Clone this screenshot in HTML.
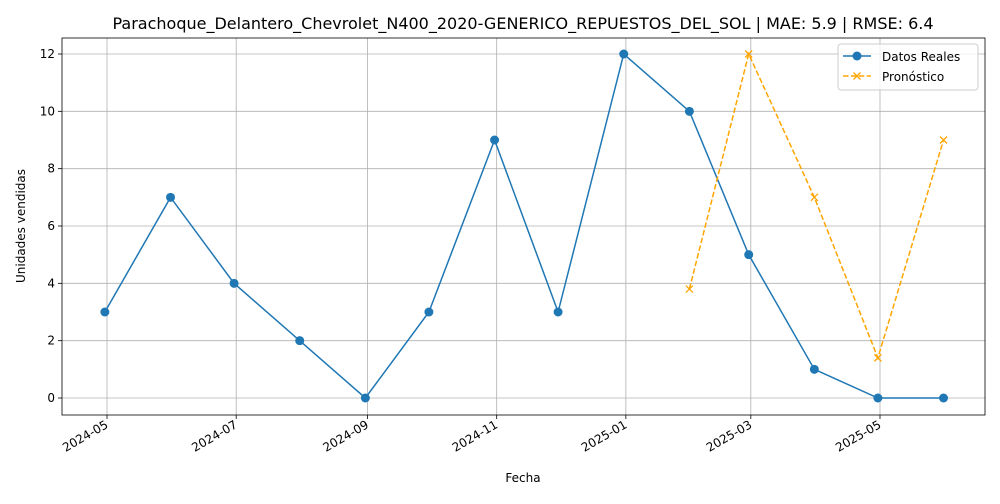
<!DOCTYPE html>
<html><head><meta charset="utf-8"><style>
body{margin:0;background:#fff;font-family:"DejaVu Sans","Liberation Sans",sans-serif;}
svg text{font-family:"DejaVu Sans","Liberation Sans",sans-serif;}
</style></head><body>
<svg id="c" width="1000" height="500" viewBox="0 0 1000 500" xmlns="http://www.w3.org/2000/svg"></svg>
<script>
const realDates=["2024-04-30","2024-05-31","2024-06-30","2024-07-31","2024-08-31","2024-09-30","2024-10-31","2024-11-30","2024-12-31","2025-01-31","2025-02-28","2025-03-31","2025-04-30","2025-05-31"];
const realValues=[3,7,4,2,0,3,9,3,12,10,5,1,0,0];
const fcDates=["2025-01-31","2025-02-28","2025-03-31","2025-04-30","2025-05-31"];
const fcValues=[3.8,12,7,1.4,9];
const xTicks=["2024-05-01","2024-07-01","2024-09-01","2024-11-01","2025-01-01","2025-03-01","2025-05-01"];
const xTickLabels=["2024-05","2024-07","2024-09","2024-11","2025-01","2025-03","2025-05"];
const yTicks=[0,2,4,6,8,10,12];

const svg=document.getElementById('c');const NS="http://www.w3.org/2000/svg";
const L=62,R=985,T=38,B=415;
const d0=Date.parse("2024-05-01"),d1=Date.parse("2025-05-01");
const x=d=>107+(Date.parse(d)-d0)/(d1-d0)*(880-107);
const y=v=>398-v*(344/12);
function el(t,a,p){const e=document.createElementNS(NS,t);for(const k in a)e.setAttribute(k,a[k]);(p||svg).appendChild(e);return e;}
function txt(s,a,name){const e=el('text',a);e.textContent=s;

return e;}
xTicks.forEach((t,i)=>{const g=el('line',{x1:x(t),x2:x(t),y1:T,y2:B,stroke:'#b0b0b0','stroke-width':0.8});


const tk=el('line',{x1:x(t),x2:x(t),y1:B,y2:B+4,stroke:'#000','stroke-width':0.8});


txt(xTickLabels[i],{x:x(t)+2,y:B+12,'font-size':12,'text-anchor':'end',transform:`rotate(-30 ${x(t)+2} ${B+12})`},'x-tick-label');});
yTicks.forEach(v=>{const g=el('line',{x1:L,x2:R,y1:y(v),y2:y(v),stroke:'#b0b0b0','stroke-width':0.8});


const tk=el('line',{x1:L-4,x2:L,y1:y(v),y2:y(v),stroke:'#000','stroke-width':0.8});


txt(String(v),{x:L-7,y:y(v)+4,'font-size':12,'text-anchor':'end'},'y-tick-label');});
const fr=el('rect',{x:L,y:T,width:R-L,height:B-T,fill:'none',stroke:'#000','stroke-width':0.8});


const rl=el('polyline',{points:realDates.map((d,i)=>x(d)+','+y(realValues[i])).join(' '),fill:'none',stroke:'#1f77b4','stroke-width':1.5});


realDates.forEach((d,i)=>{const c=el('circle',{cx:x(d),cy:y(realValues[i]),r:4.5,fill:'#1f77b4'});

});
const fl=el('polyline',{points:fcDates.map((d,i)=>x(d)+','+y(fcValues[i])).join(' '),fill:'none',stroke:'#ffa500','stroke-width':1.5,'stroke-dasharray':'5.5,2.4'});


fcDates.forEach((d,i)=>{const cx=x(d),cy=y(fcValues[i]);const p=el('path',{d:`M${cx-3.5},${cy-3.5}L${cx+3.5},${cy+3.5}M${cx-3.5},${cy+3.5}L${cx+3.5},${cy-3.5}`,stroke:'#ffa500','stroke-width':1.3});

});
txt('Parachoque_Delantero_Chevrolet_N400_2020-GENERICO_REPUESTOS_DEL_SOL | MAE: 5.9 | RMSE: 6.4',{x:523,y:29,'font-size':16,'text-anchor':'middle'},'chart-title');
txt('Fecha',{x:523,y:482,'font-size':12,'text-anchor':'middle'},'x-axis-title');
txt('Unidades vendidas',{x:25,y:226,'font-size':12,'text-anchor':'middle',transform:'rotate(-90 25 226)'},'y-axis-title');
const lg=el('g',{});
el('rect',{x:838,y:44,width:140,height:46,rx:3,fill:'#fff','fill-opacity':0.8,stroke:'#ccc'},lg);
el('line',{x1:843,x2:871,y1:56,y2:56,stroke:'#1f77b4','stroke-width':1.5},lg);
el('circle',{cx:857,cy:56,r:4.5,fill:'#1f77b4'},lg);
el('line',{x1:843,x2:871,y1:76,y2:76,stroke:'#ffa500','stroke-width':1.5,'stroke-dasharray':'5.5,2.4'},lg);
el('path',{d:'M853.5,72.5L860.5,79.5M853.5,79.5L860.5,72.5',stroke:'#ffa500','stroke-width':1.3},lg);
txt('Datos Reales',{x:882,y:61,'font-size':12},'legend-entry-real');
txt('Pronóstico',{x:882,y:81,'font-size':12},'legend-entry-forecast');
</script>
</body></html>
